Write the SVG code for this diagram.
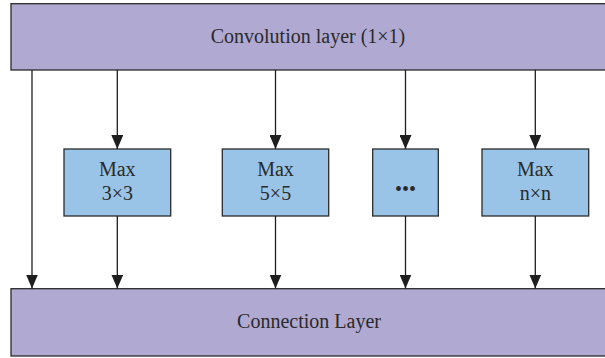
<svg xmlns="http://www.w3.org/2000/svg" width="605" height="358" viewBox="0 0 605 358">
  <style>
    .layer { fill: #b0a9d2; stroke: #2b2b2b; stroke-width: 1.3; }
    .pool { fill: #99c4e8; stroke: #2b2b2b; stroke-width: 1.3; }
    .label { font-family: "Liberation Serif", "Times New Roman", serif; font-size: 20px; fill: #2a2a2a; text-anchor: middle; }
    .edge { stroke: #1e1e1e; stroke-width: 1.3; fill: none; marker-end: url(#arrow); }
  </style>
  <defs>
    <!-- filled triangle, tip at the end of the line -->
    <marker id="arrow" markerUnits="userSpaceOnUse" markerWidth="14" markerHeight="12" viewBox="0 0 14 12" refX="14" refY="6" orient="auto">
      <path d="M0,0 L14,6 L0,12 Z" fill="#1e1e1e"/>
    </marker>
  </defs>

  <!-- input layer -->
  <g id="conv">
    <rect class="layer" x="11" y="3.7" width="600" height="66.3"/>
    <text class="label" x="308" y="43">Convolution layer (1×1)</text>
  </g>

  <!-- pooling branches -->
  <g id="max3">
    <rect class="pool" x="64" y="149" width="106.7" height="67"/>
    <text class="label" x="117.3" y="175.5">Max</text>
    <text class="label" x="117.3" y="200">3×3</text>
  </g>
  <g id="max5">
    <rect class="pool" x="222.3" y="149" width="106.4" height="67"/>
    <text class="label" x="275.5" y="175.5">Max</text>
    <text class="label" x="275.5" y="200">5×5</text>
  </g>
  <g id="more">
    <rect class="pool" x="372.7" y="149" width="65.6" height="67"/>
    <text class="label" x="405.5" y="196">•••</text>
  </g>
  <g id="maxn">
    <rect class="pool" x="482" y="149" width="106.7" height="67"/>
    <text class="label" x="535.3" y="175.5">Max</text>
    <text class="label" x="535.3" y="200">n×n</text>
  </g>

  <!-- output layer -->
  <g id="concat">
    <rect class="layer" x="11" y="288.7" width="600" height="67.3"/>
    <text class="label" x="309" y="327.5">Connection Layer</text>
  </g>

  <g id="connectors">
    <line class="edge" x1="32" y1="70" x2="32" y2="288.5"/>
    <line class="edge" x1="117.3" y1="70" x2="117.3" y2="149"/>
    <line class="edge" x1="275.5" y1="70" x2="275.5" y2="149"/>
    <line class="edge" x1="405.5" y1="70" x2="405.5" y2="149"/>
    <line class="edge" x1="535.3" y1="70" x2="535.3" y2="149"/>
    <line class="edge" x1="117.3" y1="216" x2="117.3" y2="288.5"/>
    <line class="edge" x1="275.5" y1="216" x2="275.5" y2="288.5"/>
    <line class="edge" x1="405.5" y1="216" x2="405.5" y2="288.5"/>
    <line class="edge" x1="535.3" y1="216" x2="535.3" y2="288.5"/>
  </g>
</svg>
